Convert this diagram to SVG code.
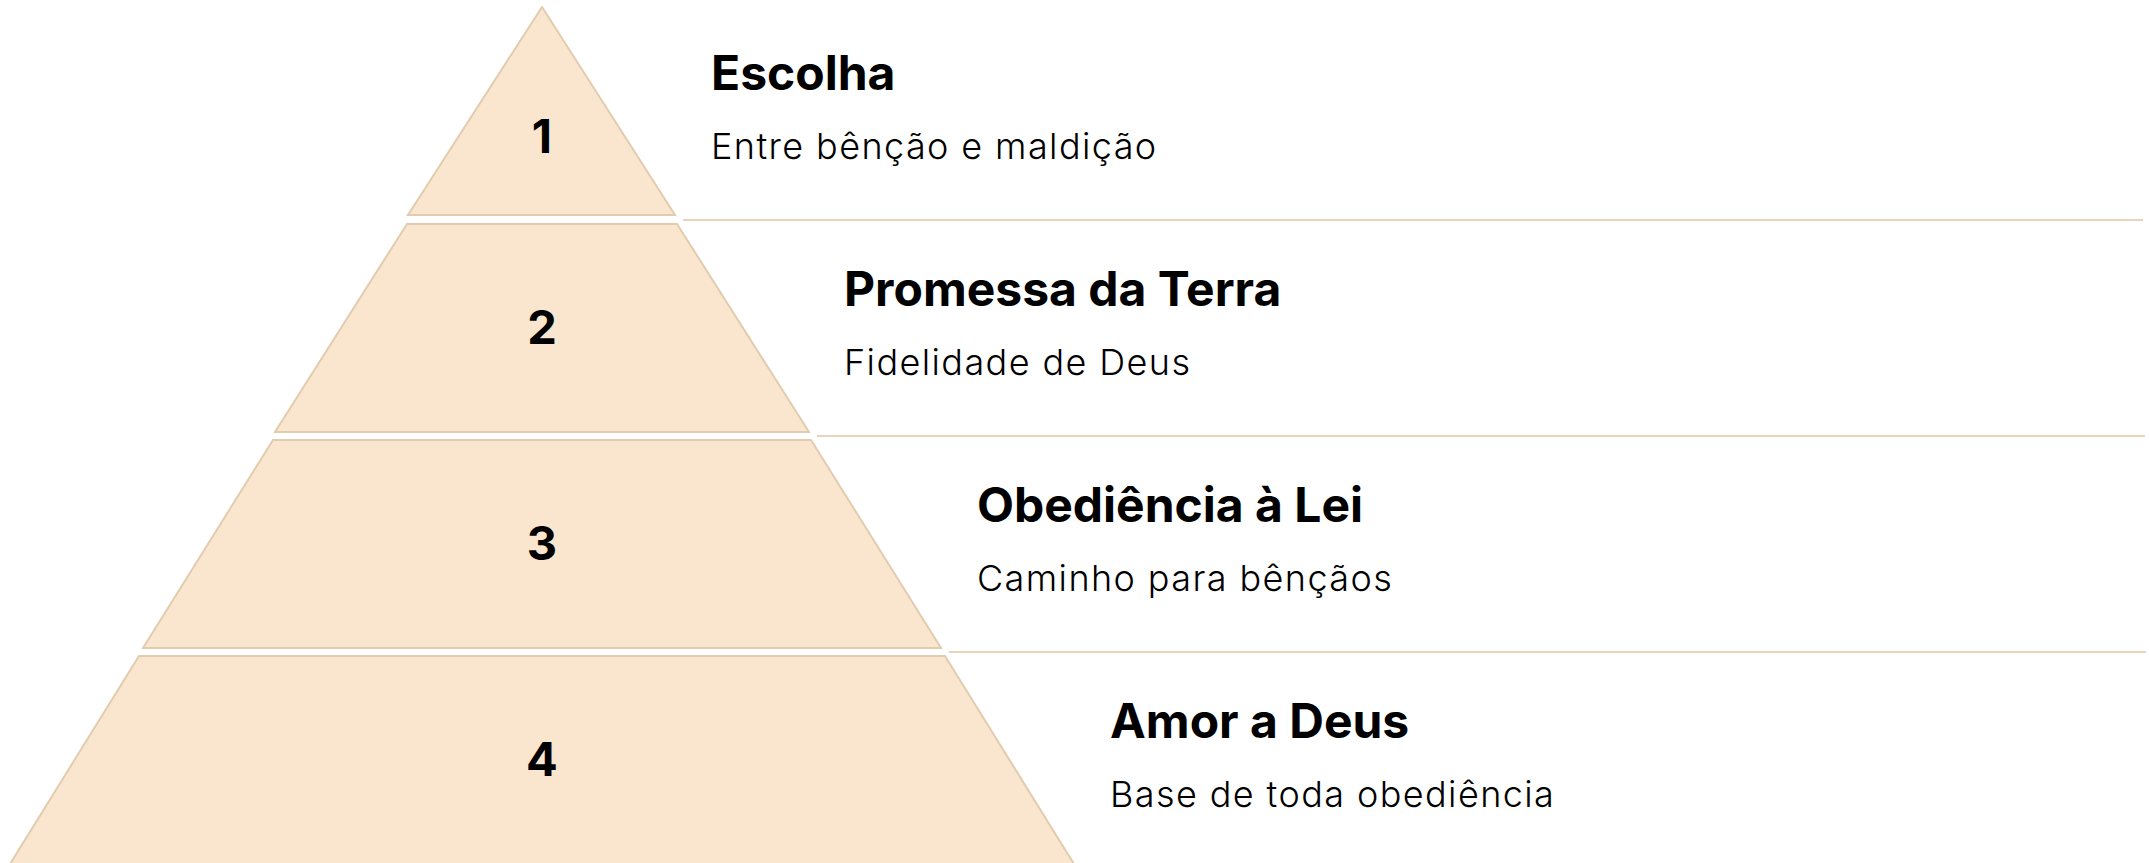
<svg xmlns="http://www.w3.org/2000/svg" width="2149" height="863" viewBox="0 0 2149 863">
  <style>
    .tier { fill: #FAE6CF; stroke: #E2CCB0; stroke-width: 2; stroke-linejoin: miter; }
    .sep { stroke: #E8D4BA; stroke-width: 2; fill: none; }
    .num { font-family: Inter, "Liberation Sans", sans-serif; font-weight: 700; font-size: 47px; fill: #000; text-anchor: middle; }
    .title { font-family: Inter, "Liberation Sans", sans-serif; font-weight: 700; font-size: 48px; fill: #000; }
    .sub { font-family: Inter, "Liberation Sans", sans-serif; font-weight: 300; font-size: 36px; letter-spacing: 1.4px; fill: #000; }
  </style>
  <rect width="2149" height="863" fill="#ffffff"/>
  <g id="connectors">
    <line class="sep" x1="683" y1="220" x2="2143" y2="220"/>
    <line class="sep" x1="817" y1="436" x2="2145" y2="436"/>
    <line class="sep" x1="949" y1="652" x2="2146" y2="652"/>
  </g>
  <g id="tier1">
    <polygon class="tier" points="542,7 675,215 408,215"/>
    <text class="num" x="542" y="153">1</text>
    <text class="title" x="711" y="90">Escolha</text>
    <text class="sub" x="711" y="159">Entre bênção e maldição</text>
  </g>
  <g id="tier2">
    <polygon class="tier" points="407,224 677,224 809,432 275,432"/>
    <text class="num" x="542" y="344">2</text>
    <text class="title" x="844" y="306">Promessa da Terra</text>
    <text class="sub" x="844" y="375">Fidelidade de Deus</text>
  </g>
  <g id="tier3">
    <polygon class="tier" points="273,440 811,440 941,648 143,648"/>
    <text class="num" x="542" y="560">3</text>
    <text class="title" x="977" y="522">Obediência à Lei</text>
    <text class="sub" x="977" y="591">Caminho para bênçãos</text>
  </g>
  <g id="tier4">
    <polygon class="tier" points="139,656 945,656 1074,864 10,864"/>
    <text class="num" x="542" y="776">4</text>
    <text class="title" x="1110" y="738">Amor a Deus</text>
    <text class="sub" x="1110" y="807">Base de toda obediência</text>
  </g>
</svg>
